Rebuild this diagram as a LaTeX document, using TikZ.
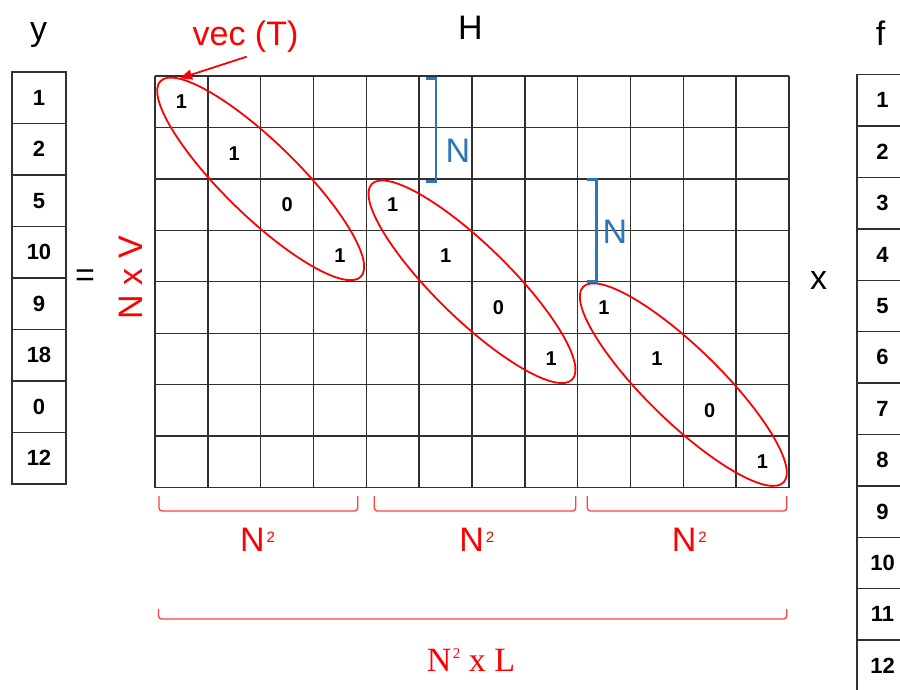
\documentclass[tikz,border=0pt]{standalone}
\usepackage{fontspec}
\setmainfont{Liberation Sans}
\newfontfamily\serifL{Liberation Serif}
\usetikzlibrary{arrows.meta}
\definecolor{bblue}{HTML}{2E75B6}
\definecolor{lred}{HTML}{FF4040}
\definecolor{gline}{HTML}{303030}
\tikzset{
  lab/.style={font=\fontsize{34}{40}\selectfont, inner sep=0pt},
  redlab/.style={lab, text=red},
  bluelab/.style={lab, text=bblue},
  colcell/.style={draw=gline, line width=1.4pt, minimum width=54pt, minimum height=51.5pt, inner sep=0pt,
    font=\fontsize{22}{26}\selectfont\bfseries},
  gridnum/.style={inner sep=0pt, font=\fontsize{20}{24}\selectfont\bfseries},
  gridline/.style={draw=gline, line width=1.4pt},
  diagell/.style={draw=red, line width=1.8pt},
  bluebr/.style={draw=bblue, line width=2.6pt},
  redbr/.style={draw=lred, line width=1.3pt, rounded corners=3pt},
}
\newcommand{\Nsq}{N\kern2pt\raisebox{9pt}{\fontsize{15}{15}\selectfont 2}}
\begin{document}
\begin{tikzpicture}[x=1pt,y=-1pt]
\useasboundingbox (0,0) rectangle (900,689);
\clip (0,0) rectangle (900,689);
% labels
\node[lab, anchor=base] (ylab) at (38.7,40) {y};
\node[lab, anchor=base] (Hlab) at (470.5,39.3) {H};
\node[lab, anchor=base] (flab) at (880.5,45) {f};
\node[redlab, anchor=base] (vec) at (245.5,45) {vec (T)};
\node[lab] (eq) at (85,278.5) {=};
\node[lab] (times) at (818.5,281) {x};
\node[redlab, rotate=90, anchor=base] (NxV) at (142,277.5) {N x V};
% y column
\foreach \v [count=\k from 0] in {1,2,5,10,9,18,0,12}
  \node[colcell] (y\k) at (39,{72+51.5*(\k+0.5)}) {\v};
% f column
\foreach \v [count=\k from 0] in {1,2,3,4,5,6,7,8,9,10,11,12}
  \node[colcell, minimum width=51pt] (f\k) at (882.5,{74.7+51.4*(\k+0.5)}) {\v};
% grid H
\foreach \i in {0,...,12}
  \draw[gridline] ({155+52.83*\i},76) -- ({155+52.83*\i},487.5);
\foreach \j in {0,...,8}
  \draw[gridline] (155,{76+51.44*\j}) -- (788.96,{76+51.44*\j});
% diagonal entries
\foreach \b in {0,1,2}{
  \foreach \d/\v in {0/1,1/1,2/0,3/1}{
    \node[gridnum] (g\b\d) at ({155+52.83*(4*\b+\d+0.5)},{76+51.44*(2*\b+\d+0.5)}) {\v};
  }
  \coordinate (c\b) at ({155+52.83*(4*\b+2)},{76+51.44*(2*\b+2)});
  \draw[diagell, rotate around={-44.3:(c\b)}] (c\b) ellipse [x radius=140pt, y radius=37pt];
}
% arrow vec(T)
\coordinate (arrS) at (246.7,56.7);
\coordinate (arrE) at (180,78.3);
\draw[red, line width=1.8pt, -{Triangle[length=12pt,width=10pt]}] (arrS) -- (arrE);
% blue brackets
\draw[bluebr] (426,78.3) -- (436,78.3) -- (436,181.7) -- (426,181.7);
\node[bluelab] (N1) at (458,150.5) {N};
\draw[bluebr] (586.7,179.5) -- (596.7,179.5) -- (596.7,281.7) -- (586.7,281.7);
\node[bluelab] (N2) at (615,231.5) {N};
% red brackets
\draw[redbr] (159,496) -- (159,511) -- (357.7,511) -- (357.7,496);
\draw[redbr] (374.3,496) -- (374.3,511) -- (575.7,511) -- (575.7,496);
\draw[redbr] (587.3,496) -- (587.3,511) -- (786.7,511) -- (786.7,496);
\node[redlab, anchor=base] (sq1) at (257.5,551) {\Nsq};
\node[redlab, anchor=base] (sq2) at (476.7,551) {\Nsq};
\node[redlab, anchor=base] (sq3) at (689.3,551) {\Nsq};
\draw[redbr] (158.5,609) -- (158.5,619) -- (786.7,619) -- (786.7,609);
\node[redlab, anchor=base, font=\serifL\fontsize{34}{40}\selectfont] (NL) at (471,671.7)
  {N\kern1.5pt\raisebox{13pt}{\fontsize{15}{15}\selectfont 2} x L};
\end{tikzpicture}
\end{document}
